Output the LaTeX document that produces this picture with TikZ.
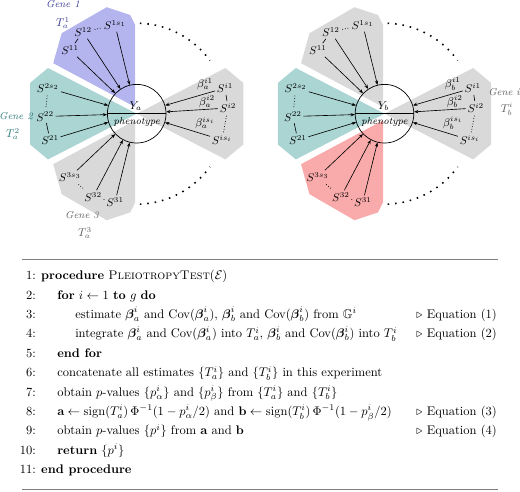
\documentclass[tikz,border=0pt]{standalone}
\usepackage{amsmath,amssymb}
\usetikzlibrary{arrows.meta}

\definecolor{genepurple}{RGB}{180,180,238}
\definecolor{geneteal}{RGB}{170,213,211}
\definecolor{genegray}{RGB}{217,217,217}
\definecolor{genered}{RGB}{249,170,170}
\definecolor{purpletext}{RGB}{58,58,150}
\definecolor{tealtext}{RGB}{45,120,120}
\definecolor{graytext}{RGB}{95,95,95}

% one phenotype with its genes: #1 shift, #2 a/b, #3-#6 fills of gene 1, 2, i, 3
\newcommand{\phenodiagram}[6]{%
  \begin{scope}[shift={(#1,0)}, every node/.style={inner sep=1.35pt, font=\small}]
    \fill[#3] (135.2,107) -- (135.2,25) -- (130.2,15) -- (106.7,7.2)
      -- (61.7,33.2) -- (53.2,63.2) -- cycle;
    \fill[#4] (136.7,113.7) -- (48,68) -- (30,83) -- (30,144.4)
      -- (48,159.4) -- cycle;
    \fill[#5] (136.7,113.7) -- (225.4,68) -- (243.4,83) -- (243.4,144.4)
      -- (225.4,159.4) -- cycle;
    \fill[#6] (135.2,120.4) -- (135.2,202.4) -- (130.2,212.4) -- (106.7,220.2)
      -- (61.7,194.2) -- (53.2,164.2) -- cycle;
    \node[pheno] (p#2) at (136.7,113.7) {};
    \draw[line width=.56pt] (p#2.west) -- (p#2.east);
    \node (y#2) at (135.7,106) {$Y_#2$};
    \node[font=\footnotesize] (ph#2) at (136.7,122.5) {\textit{phenotype}};
    % gene 1
    \node (s11#2) at (70,50) {$S^{11}$};
    \node (s12#2) at (83,32) {$S^{12}$};
    \node (s1s#2) at (115,25) {$S^{1s_1}$};
    \draw[line width=.5pt] (s11#2) -- (s12#2);
    \draw[dotlink] (s12#2) -- (s1s#2);
    % gene 2
    \node (s2s#2) at (48,88) {$S^{2s_2}$};
    \node (s22#2) at (45,116.5) {$S^{22}$};
    \node (s21#2) at (50,140) {$S^{21}$};
    \draw[dotlink] (s2s#2) -- (s22#2);
    \draw[line width=.5pt] (s22#2) -- (s21#2);
    % gene i
    \node (si1#2) at (225,88) {$S^{i1}$};
    \node (si2#2) at (228,108) {$S^{i2}$};
    \node (sis#2) at (222,140) {$S^{is_i}$};
    \draw[line width=.5pt] (si1#2) -- (si2#2);
    \draw[dotlink] (si2#2) -- (sis#2);
    \node (bi1#2) at (205,84) {$\beta_#2^{i1}$};
    \node (bi2#2) at (207,101.5) {$\beta_#2^{i2}$};
    \node (bis#2) at (205,123) {$\beta_#2^{is_i}$};
    % gene 3
    \node (s3s#2) at (70,177) {$S^{3s_3}$};
    \node (s32#2) at (93,197) {$S^{32}$};
    \node (s31#2) at (115,202) {$S^{31}$};
    \draw[dotlink] (s3s#2) -- (s32#2);
    \draw[line width=.5pt] (s32#2) -- (s31#2);
    \foreach \s in {s11,s12,s1s,s2s,s22,s21,si1,si2,sis,s3s,s32,s31}
      \draw[arr] (\s#2) -- (p#2);
    % remaining genes
    \draw[arcdots] ([shift={(-88:90.5)}]p#2.center) arc[start angle=-88, end angle=-36, radius=90.5];
    \draw[arcdots] ([shift={(88:90.5)}]p#2.center) arc[start angle=88, end angle=36, radius=90.5];
  \end{scope}}

\begin{document}
\begin{tikzpicture}[x=0.8pt, y=-0.8pt,
    pheno/.style={circle, draw, line width=.56pt, minimum size=46.9pt, inner sep=0pt},
    arr/.style={-{Stealth[length=3.4pt,width=2.6pt]}, line width=.5pt},
    dotlink/.style={line width=.8pt, dash pattern=on 0pt off 2.15pt, line cap=round,
      shorten <=1pt, shorten >=1pt},
    arcdots/.style={line width=1.25pt, dash pattern=on 1.25pt off 4.7pt},
    genelabel/.style={font=\footnotesize\itshape},
    lineno/.style={anchor=base east, inner sep=0pt},
    algtext/.style={anchor=base west, inner sep=0pt},
    eqnote/.style={anchor=base east, inner sep=0pt}]
  \useasboundingbox (0,0) rectangle (520,492);

  \phenodiagram{0}{a}{genepurple}{geneteal}{genegray}{genegray}
  \phenodiagram{247.8}{b}{genegray}{geneteal}{genegray}{genered}

  \node[genelabel, text=purpletext] (g1) at (63,4.5) {Gene 1};
  \node[font=\small, text=purpletext] (t1) at (63,23) {$T_a^1$};
  \node[genelabel, text=tealtext] (g2) at (16,116) {Gene 2};
  \node[font=\small, text=tealtext] (t2) at (13,134) {$T_a^2$};
  \node[genelabel, text=graytext] (g3) at (82,215) {Gene 3};
  \node[font=\small, text=graytext] (t3) at (85,233) {$T_a^3$};
  \node[genelabel, text=graytext] (gi) at (504,92) {Gene i};
  \node[font=\small, text=graytext] (ti) at (507,109) {$T_b^i$};

  % algorithm
  \draw[gray, line width=.8pt] (22,259) -- (498,259);
  \draw[gray, line width=.8pt] (22,489) -- (498,489);
  \foreach \k in {1,...,11}
    \node[lineno] (n\k) at (36,{279.7+19.4*(\k-1)}) {\k:};
  \node[algtext] (l1) at (41,279.7) {\textbf{procedure} \textsc{PleiotropyTest}($\mathcal{E}$)};
  \node[algtext] (l2) at (57,299.1) {\textbf{for} $i \leftarrow 1$ \textbf{to} $g$ \textbf{do}};
  \node[algtext] (l3) at (75,318.5) {estimate $\boldsymbol{\beta}_a^i$ and Cov($\boldsymbol{\beta}_a^i$), $\boldsymbol{\beta}_b^i$ and Cov($\boldsymbol{\beta}_b^i$) from $\mathbb{G}^i$};
  \node[algtext] (l4) at (75,337.9) {integrate $\boldsymbol{\beta}_a^i$ and Cov($\boldsymbol{\beta}_a^i$) into $T_a^i$, $\boldsymbol{\beta}_b^i$ and Cov($\boldsymbol{\beta}_b^i$) into $T_b^i$};
  \node[algtext] (l5) at (57,357.3) {\textbf{end for}};
  \node[algtext] (l6) at (57,376.7) {concatenate all estimates $\{T_a^i\}$ and $\{T_b^i\}$ in this experiment};
  \node[algtext] (l7) at (57,396.1) {obtain $p$-values $\{p_\alpha^i\}$ and $\{p_\beta^i\}$ from $\{T_a^i\}$ and $\{T_b^i\}$};
  \node[algtext] (l8) at (57,415.5) {$\mathbf{a} \leftarrow \operatorname{sign}(T_a^i)\,\Phi^{-1}(1-p_\alpha^i/2)$ and $\mathbf{b} \leftarrow \operatorname{sign}(T_b^i)\,\Phi^{-1}(1-p_\beta^i/2)$};
  \node[algtext] (l9) at (57,434.9) {obtain $p$-values $\{p^i\}$ from $\mathbf{a}$ and $\mathbf{b}$};
  \node[algtext] (l10) at (57,454.3) {\textbf{return} $\{p^i\}$};
  \node[algtext] (l11) at (41,473.7) {\textbf{end procedure}};
  \node[eqnote] (e3) at (497,318.5) {$\triangleright$ Equation (1)};
  \node[eqnote] (e4) at (497,337.9) {$\triangleright$ Equation (2)};
  \node[eqnote] (e8) at (497,415.5) {$\triangleright$ Equation (3)};
  \node[eqnote] (e9) at (497,434.9) {$\triangleright$ Equation (4)};
\end{tikzpicture}
\end{document}
